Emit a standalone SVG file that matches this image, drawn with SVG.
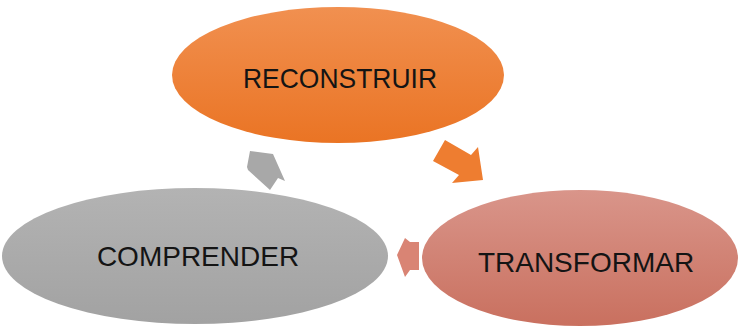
<svg xmlns="http://www.w3.org/2000/svg" width="741" height="327" viewBox="0 0 741 327">
<style>
.lbl{font-family:"Liberation Sans",Arial,sans-serif;font-size:28px;fill:#141414;text-anchor:middle}
</style>
<defs>
<linearGradient id="gO" x1="0" y1="0" x2="0" y2="1"><stop offset="0" stop-color="#F19050"/><stop offset="1" stop-color="#EA7424"/></linearGradient>
<linearGradient id="gR" x1="0" y1="0" x2="0" y2="1"><stop offset="0" stop-color="#D9958A"/><stop offset="1" stop-color="#C9705F"/></linearGradient>
<linearGradient id="gG" x1="0" y1="0" x2="0" y2="1"><stop offset="0" stop-color="#B3B3B3"/><stop offset="1" stop-color="#A2A2A2"/></linearGradient>
</defs>
<rect width="741" height="327" fill="#FFFFFF"/>
<g id="connectors">
<polygon points="445,140 471,155 478,147 483,180 452,183 459,175 433,161" fill="#EE7D30"/>
<polygon points="419,242 410,242 405,238 397,255 405,277 410,270 419,270" fill="#D98474"/>
<polygon points="250,151 273,154 285,181 278,178 270,190 248,170 247,167" fill="#A8A8A8"/>
</g>
<g id="reconstruir">
<ellipse cx="338" cy="75" rx="166" ry="68" fill="url(#gO)"/>
<text class="lbl" x="340" y="88" textLength="194" lengthAdjust="spacingAndGlyphs">RECONSTRUIR</text>
</g>
<g id="transformar">
<ellipse cx="580" cy="258" rx="158" ry="68" fill="url(#gR)"/>
<text class="lbl" x="586" y="272">TRANSFORMAR</text>
</g>
<g id="comprender">
<ellipse cx="195" cy="256" rx="193" ry="68" fill="url(#gG)"/>
<text class="lbl" x="198" y="266">COMPRENDER</text>
</g>
</svg>
